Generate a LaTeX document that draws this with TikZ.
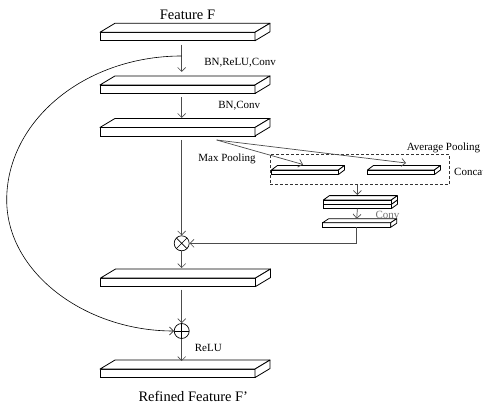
\documentclass[tikz,border=0pt]{standalone}
\usepackage{fontspec}
\setmainfont{Liberation Serif}
\usetikzlibrary{arrows.meta,calc}
\newcommand{\mslab}[7]{%
 \node[slabf, minimum width=#4pt, minimum height=#5pt] (#1) at (#2,#3) {};
 \filldraw[slabl] (#1.north west) -- ++(#6,-#7) -- ($(#1.north east)+(#6,-#7)$) -- (#1.north east) -- cycle;
 \filldraw[slabl] (#1.north east) -- ++(#6,-#7) -- ++(0,#5) -- (#1.south east) -- cycle;
}
\begin{document}
\begin{tikzpicture}[x=1pt,y=-1pt,
 slabf/.style={draw=black, fill=white, line width=0.8pt, inner sep=0pt, outer sep=0pt},
 slabl/.style={draw=black, fill=white, line width=0.8pt, line join=round},
 conn/.style={draw=black!70, line width=0.7pt, -{Straight Barb[length=4pt,width=8pt]}},
 curv/.style={draw=black, line width=0.6pt, -{Straight Barb[length=4pt,width=8pt]}},
 lbl/.style={font=\fontsize{11}{13}\selectfont, inner sep=0pt},
 big/.style={font=\fontsize{14.5}{17}\selectfont, inner sep=0pt},
 op/.style={circle, draw=black, line width=0.7pt, minimum size=15pt, inner sep=0pt},
]
\useasboundingbox (0,0) rectangle (483,406);
\clip (0,0) rectangle (483,406);

% main slabs
\mslab{s1}{177.5}{36.5}{155}{8.5}{15}{9}
\mslab{s2}{177.5}{89.2}{155}{8.5}{15}{9}
\mslab{s3}{177.5}{131.7}{155}{8.5}{15}{9}
\mslab{s4}{178}{282.3}{155}{8.5}{15}{9}
\mslab{s5}{177.5}{373.3}{155}{8.5}{15}{9}

% operators
\node[op, path picture={\draw[line width=0.7pt] (path picture bounding box.north west) -- (path picture bounding box.south east) (path picture bounding box.north east) -- (path picture bounding box.south west);}] (ot) at (181.7,243.3) {};
\node[op, path picture={\draw[line width=0.7pt] (path picture bounding box.north) -- (path picture bounding box.south) (path picture bounding box.west) -- (path picture bounding box.east);}] (op) at (181.7,331) {};

% main connectors
\draw[conn] ($(s1.south -| ot)+(0,4)$) -- ($(s2.north -| ot)+(0,-13)$);
\draw[conn] ($(s2.south -| ot)+(0,4)$) -- ($(s3.north -| ot)+(0,-9.5)$);
\draw[conn] ($(s3.south -| ot)+(0,4)$) -- (ot.north);
\draw[conn] (ot.south) -- ($(s4.north -| ot)+(0,-10)$);
\draw[conn] ($(s4.south -| ot)+(0,3)$) -- (op.north);
\draw[conn] (op.south) -- ($(s5.north -| ot)+(0,-8)$);

% skip connection
\coordinate (br) at (181.7,56);
\draw[curv] (br) .. controls (85,56) and (6.7,120.5) .. (6.7,200) .. controls (6.7,272.4) and (85,331) .. (op.west);

% attention branch
\node[draw=black!80, densely dashed, line width=0.7pt, minimum width=179.3pt, minimum height=30.3pt, inner sep=0pt] (cb) at (359.65,169.15) {};
\mslab{sa}{305}{172.25}{67}{4.5}{6}{4.5}
\mslab{sb}{401}{172.25}{67}{4.5}{6}{4.5}
\coordinate (pb) at (216.7,140);
\coordinate (mt) at (303,164.5);
\coordinate (at) at (406,163);
\draw[conn] (pb) -- (mt);
\draw[conn] (pb) -- (at);

\mslab{stl}{357.4}{206.4}{68}{4.3}{6}{4.3}
\mslab{stu}{357.4}{202.1}{68}{4.3}{6}{4.3}
\node[lbl, text=black!55] (cv) at (387.5,214.5) {Conv};
\mslab{sc}{356.7}{225}{68}{4.6}{6}{4}
\draw[conn] (cb.south -| stu) -- ($(stu.north)+(0,-5)$);
\draw[conn] (stl.south) -- ($(sc.north)+(0,-4)$);
\draw[conn] (sc.south) |- (ot.east);

% labels
\node[big] (t1) at (187.5,15) {Feature F};
\node[big] (t2) at (193.3,396.7) {Refined Feature F’};
\node[lbl] (l1) at (240,62.3) {BN,ReLU,Conv};
\node[lbl] (l2) at (239.2,106) {BN,Conv};
\node[lbl] (l3) at (227,159.3) {Max Pooling};
\node[lbl] (l4) at (443.5,147.7) {Average Pooling};
\node[lbl, anchor=west] (l5) at (454,171.7) {Concat};
\node[lbl] (l6) at (208.3,347.7) {ReLU};
\end{tikzpicture}
\end{document}
